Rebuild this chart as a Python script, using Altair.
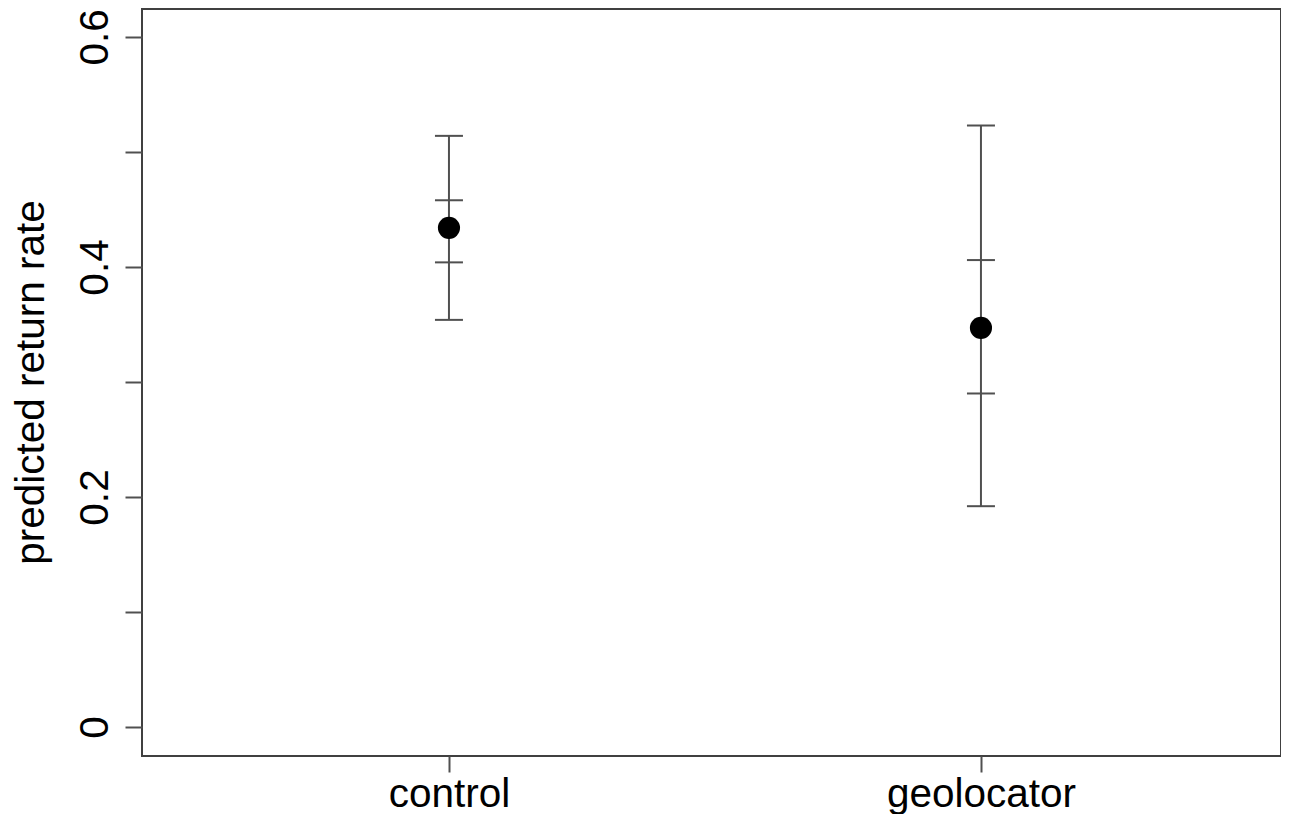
import altair as alt
import pandas as pd

categories = ["control", "geolocator"]
position = [1, 2]
estimate = [0.434, 0.347]
se_low = [0.404, 0.290]
se_high = [0.458, 0.406]
ci_low = [0.354, 0.192]
ci_high = [0.514, 0.523]

y_ticks = [0, 0.1, 0.2, 0.3, 0.4, 0.5, 0.6]
y_tick_labels = ["0", "", "0.2", "", "0.4", "", "0.6"]

df = pd.DataFrame({
    "group": categories,
    "pos": position,
    "est": estimate,
    "se_lo": se_low,
    "se_hi": se_high,
    "ci_lo": ci_low,
    "ci_hi": ci_high,
})

y_map = "{" + ",".join(f"'{i}':'{l}'" for i, l in enumerate(y_tick_labels)) + "}"
y_label_expr = f"{y_map}[''+round(datum.value*10)]"
x_map = "{" + ",".join(f"'{p}':'{c}'" for p, c in zip(position, categories)) + "}"
x_label_expr = f"{x_map}[''+round(datum.value)]"

FONT = "Liberation Sans"
FS = 40.5
LINE = "#505050"

x_scale = alt.Scale(domain=[0.423, 2.564], nice=False, zero=False)
x_axis = alt.Axis(
    title=None, values=position, labelExpr=x_label_expr, domain=False, grid=False,
    tickSize=16, tickWidth=2, tickColor=LINE,
    labelAngle=0, labelFont=FONT, labelFontSize=FS, labelColor="black",
    labelPadding=34, labelBaseline="alphabetic", labelAlign="center",
    labelLimit=0, labelOverlap=False, labelFlush=False,
)

y_scale = alt.Scale(domain=[-0.0252, 0.6243], nice=False, zero=False)
y_axis = alt.Axis(
    title="predicted return rate", values=y_ticks, labelExpr=y_label_expr,
    domain=False, grid=False, tickSize=17, tickWidth=2, tickColor=LINE,
    labelAngle=-90, labelAlign="center", labelBaseline="alphabetic",
    labelPadding=18, labelFont=FONT, labelFontSize=FS, labelColor="black",
    labelOverlap=False, labelFlush=False, labelLimit=0,
    titleFont=FONT, titleFontSize=FS, titleFontWeight="normal", titleColor="black",
    titleAngle=-90, titleAlign="center", titleBaseline="alphabetic",
    titleX=-99, titleY=373, titleLimit=0,
)

base = alt.Chart(df)

ci_rule = base.mark_rule(color=LINE, strokeWidth=2).encode(
    x=alt.X("pos:Q", scale=x_scale, axis=x_axis),
    y=alt.Y("ci_lo:Q", scale=y_scale, axis=y_axis),
    y2="ci_hi:Q",
)

cap_style = dict(color=LINE, size=28, thickness=2, opacity=1, orient="horizontal")
caps = [
    base.mark_tick(**cap_style).encode(
        x=alt.X("pos:Q", scale=x_scale),
        y=alt.Y(f"{c}:Q", scale=y_scale),
    )
    for c in ["ci_lo", "ci_hi", "se_lo", "se_hi"]
]

points = base.mark_circle(color="black", size=490, opacity=1).encode(
    x=alt.X("pos:Q", scale=x_scale),
    y=alt.Y("est:Q", scale=y_scale),
)

chart = alt.layer(ci_rule, *caps, points).properties(
    width=1139,
    height=747,
    background="white",
    padding={"left": 134, "top": 1, "right": 0, "bottom": 58},
    autosize=alt.AutoSizeParams(type="none"),
).configure_view(
    stroke="#404040", strokeWidth=2, fill="white",
)

chart.save("out.html", embed_options={"renderer": "svg", "actions": False})
